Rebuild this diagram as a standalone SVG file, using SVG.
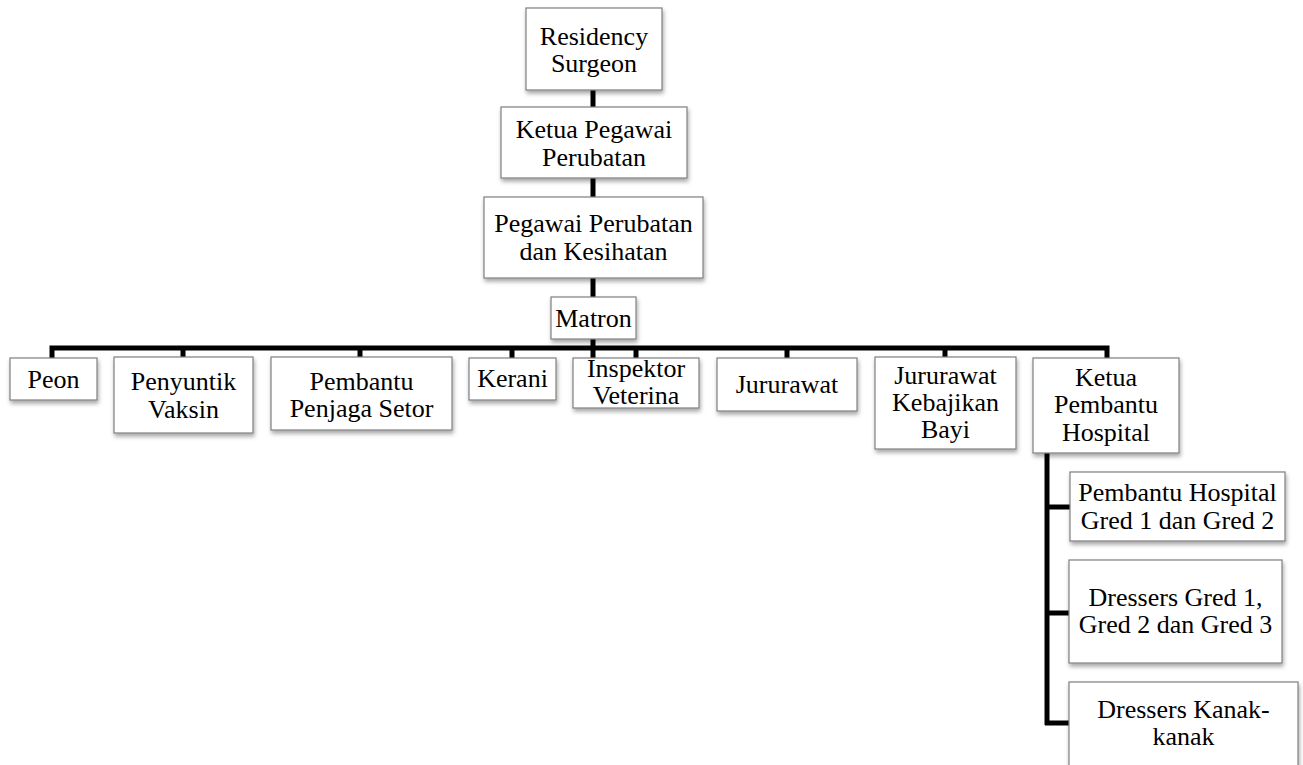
<svg xmlns="http://www.w3.org/2000/svg" width="1303" height="765" viewBox="0 0 1303 765">
<defs>
<filter id="sh" x="-10%" y="-10%" width="130%" height="140%">
<feDropShadow dx="1" dy="3" stdDeviation="2" flood-color="#000" flood-opacity="0.35"/>
</filter>
<style>
.box{fill:#fff;stroke:#7f7f7f;stroke-width:1.2;filter:url(#sh)}
.t{font-size:26px;fill:#000;text-anchor:middle}
.ln{fill:none;stroke:#000;stroke-width:5}
</style>
</defs>
<rect width="1303" height="765" fill="#fff"/>
<g id="connectors">
<path class="ln" d="M593,90 V298"/>
<path class="ln" d="M593,339 V358"/>
<path class="ln" d="M52,358 V348 H1107 V358"/>
<path class="ln" d="M183,348 V358 M360,348 V358 M512,348 V358 M636,348 V358 M787,348 V358 M945,348 V358"/>
<path class="ln" d="M1047,453 V725 M1045,507 H1070 M1045,613 H1070 M1045,723 H1070"/>
</g>
<g font-family="Liberation Serif, Times New Roman, serif">
<g id="n-residency"><rect class="box" x="526" y="8" width="136" height="82"/><text class="t" x="594" y="45">Residency</text><text class="t" x="594" y="72">Surgeon</text></g>
<g id="n-ketua-pegawai"><rect class="box" x="501" y="107" width="186" height="71"/><text class="t" x="594" y="138">Ketua Pegawai</text><text class="t" x="594" y="166">Perubatan</text></g>
<g id="n-pegawai"><rect class="box" x="484" y="197" width="219" height="81"/><text class="t" x="593.5" y="232">Pegawai Perubatan</text><text class="t" x="593.5" y="260">dan Kesihatan</text></g>
<g id="n-matron"><rect class="box" x="551" y="297" width="85" height="42"/><text class="t" x="593.5" y="327">Matron</text></g>
<g id="n-peon"><rect class="box" x="10" y="358" width="87" height="42"/><text class="t" x="53.5" y="388">Peon</text></g>
<g id="n-penyuntik"><rect class="box" x="114" y="357" width="139" height="76"/><text class="t" x="183.5" y="390">Penyuntik</text><text class="t" x="183.5" y="418">Vaksin</text></g>
<g id="n-pembantu-penjaga"><rect class="box" x="271" y="357" width="181" height="73"/><text class="t" x="361.5" y="390">Pembantu</text><text class="t" x="361.5" y="417">Penjaga Setor</text></g>
<g id="n-kerani"><rect class="box" x="469" y="358" width="87" height="42"/><text class="t" x="512.5" y="387">Kerani</text></g>
<g id="n-inspektor"><rect class="box" x="573" y="358" width="126" height="50"/><text class="t" x="636" y="377">Inspektor</text><text class="t" x="636" y="404">Veterina</text></g>
<g id="n-jururawat"><rect class="box" x="717" y="358" width="140" height="53"/><text class="t" x="787" y="393">Jururawat</text></g>
<g id="n-jururawat-kebajikan"><rect class="box" x="875" y="357" width="141" height="92"/><text class="t" x="945.5" y="384">Jururawat</text><text class="t" x="945.5" y="411">Kebajikan</text><text class="t" x="945.5" y="438">Bayi</text></g>
<g id="n-ketua-pembantu"><rect class="box" x="1033" y="358" width="146" height="95"/><text class="t" x="1106" y="386">Ketua</text><text class="t" x="1106" y="413">Pembantu</text><text class="t" x="1106" y="441">Hospital</text></g>
<g id="n-pembantu-hospital"><rect class="box" x="1070" y="472" width="215" height="69"/><text class="t" x="1177.5" y="501">Pembantu Hospital</text><text class="t" x="1177.5" y="529">Gred 1 dan Gred 2</text></g>
<g id="n-dressers"><rect class="box" x="1069" y="560" width="213" height="103"/><text class="t" x="1175.5" y="606">Dressers Gred 1,</text><text class="t" x="1175.5" y="633">Gred 2 dan Gred 3</text></g>
<g id="n-dressers-kanak"><rect class="box" x="1069" y="682" width="229" height="90"/><text class="t" x="1183.5" y="718">Dressers Kanak-</text><text class="t" x="1183.5" y="745">kanak</text></g>
</g>
</svg>
